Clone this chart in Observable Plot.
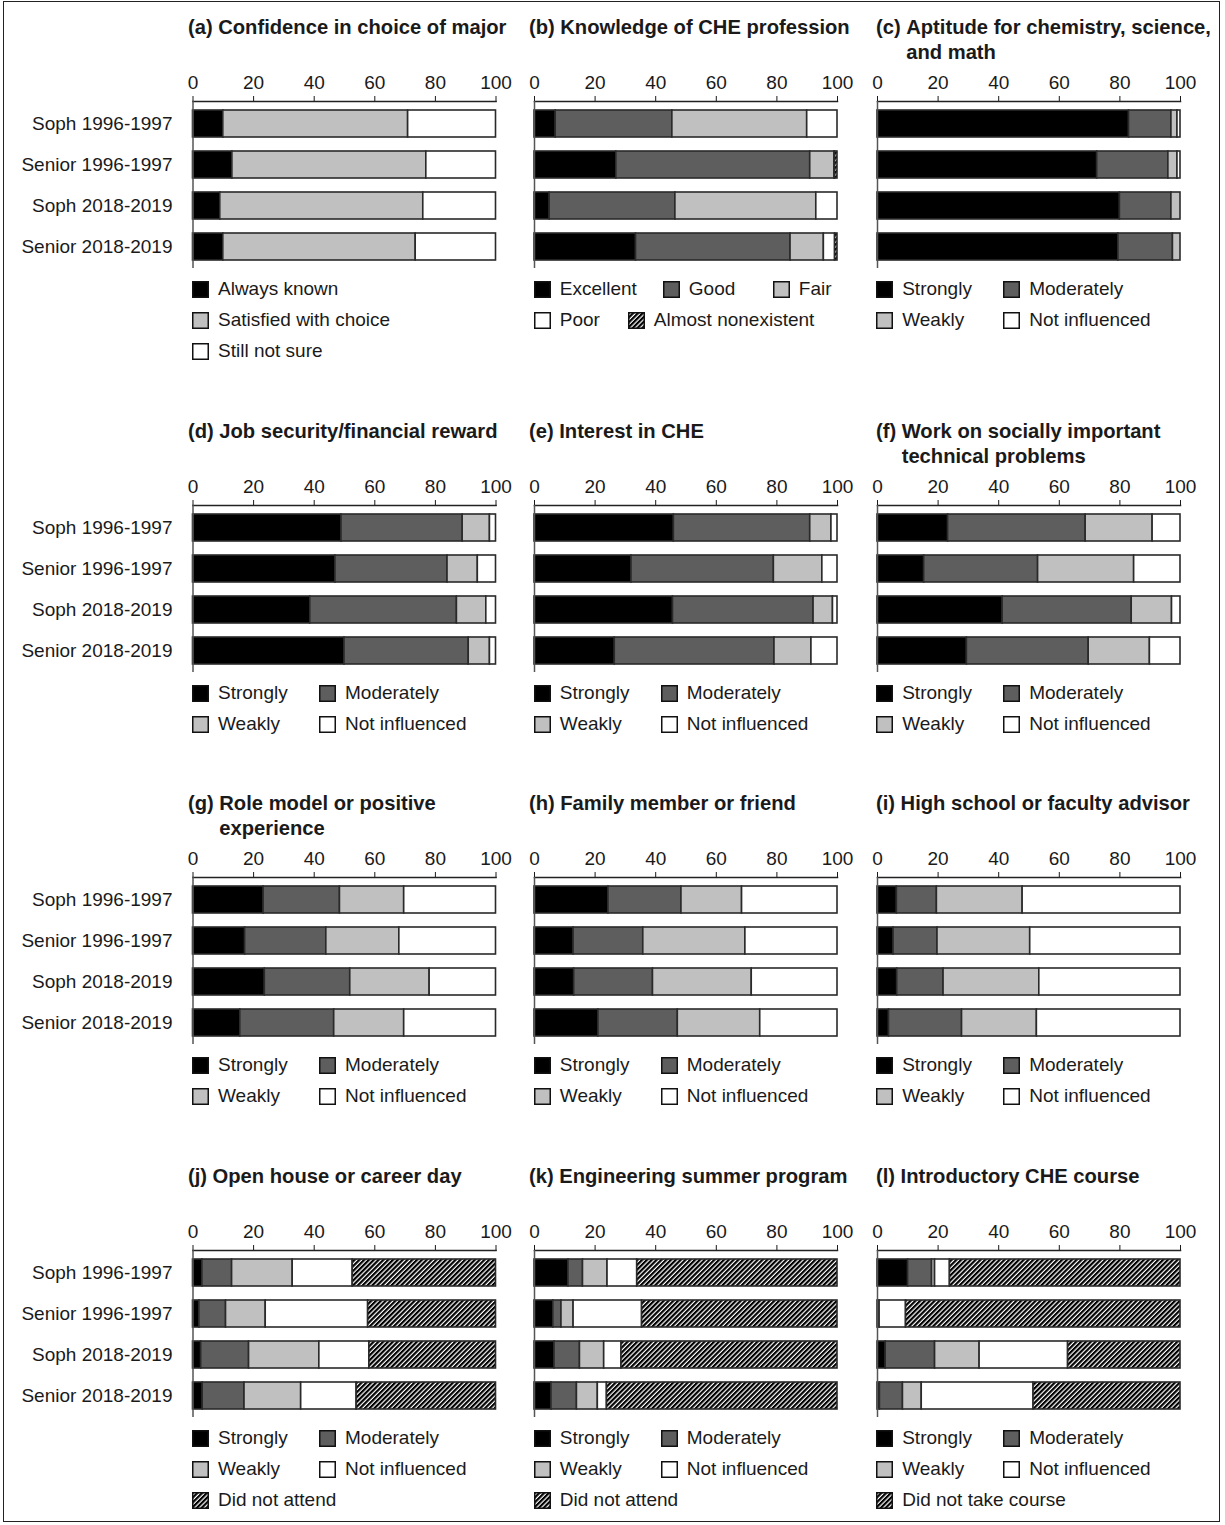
<!DOCTYPE html>
<html>
<head>
<meta charset="utf-8">
<script src="https://cdn.jsdelivr.net/npm/d3@7"></script>
<script src="https://cdn.jsdelivr.net/npm/@observablehq/plot@0.6"></script>
<style>
  body { margin: 0; background: #fff; }
  #fig { position: relative; width: 1225px; height: 1525px; overflow: hidden;
         font-family: "Liberation Sans", Arial, sans-serif; color: #1a1a1a; background: #fff; }
  #fig .border { position: absolute; left: 3px; top: 1px; width: 1217px; height: 1521px;
                 border: 1.5px solid #222; box-sizing: border-box; }
  .title { position: absolute; display: flex; font-weight: bold; font-size: 20.2px;
           line-height: 24.5px; white-space: nowrap; }
  .title .tag { margin-right: 5.5px; }
  .panel { position: absolute; }
  .legend-item { position: absolute; display: flex; align-items: center; font-size: 19px;
                 line-height: 20px; white-space: nowrap; }
  .legend-item svg { margin-right: 9px; flex: none; }
</style>
</head>
<body>
<svg width="0" height="0" style="position:absolute">
  <defs>
    <pattern id="hatch" width="3.4" height="10" patternUnits="userSpaceOnUse" patternTransform="rotate(45)">
      <rect width="3.4" height="10" fill="#fff"></rect>
      <rect width="2.2" height="10" fill="#000"></rect>
    </pattern>
  </defs>
</svg>
<div id="fig"><div class="border"></div></div>
<script>
// Survey groups (one bar per group in every panel)
const rows = ["Soph 1996-1997", "Senior 1996-1997", "Soph 2018-2019", "Senior 2018-2019"];
const xTicks = [0, 20, 40, 60, 80, 100];

// Response categories
const majorLevels = ["Always known", "Satisfied with choice", "Still not sure"];
const knowledgeLevels = ["Excellent", "Good", "Fair", "Poor", "Almost nonexistent"];
const influenceLevels = ["Strongly", "Moderately", "Weakly", "Not influenced"];
const attendLevels = ["Strongly", "Moderately", "Weakly", "Not influenced", "Did not attend"];
const courseLevels = ["Strongly", "Moderately", "Weakly", "Not influenced", "Did not take course"];

// Percent of respondents, one inner array per group (rows order), one value per category
const confidenceMajor = [[10, 61, 29], [13, 64, 23], [9, 67, 24], [10, 63.5, 26.5]];
const knowledgeChe = [[7, 38.5, 44.5, 10, 0], [27, 64, 8, 0.2, 0.8], [5, 41.5, 46.5, 7, 0], [33.5, 51, 11, 3.7, 0.8]];
const aptitude = [[83, 14, 2, 1], [72.5, 23.5, 3, 1], [80, 17, 3, 0], [79.5, 18, 2.5, 0]];
const jobSecurity = [[49, 40, 9, 2], [47, 37, 10, 6], [38.7, 48.4, 9.7, 3.2], [50, 41, 7, 2]];
const interestChe = [[46, 45, 7, 2], [32, 47, 16, 5], [45.7, 46.4, 6.4, 1.5], [26.5, 52.7, 12.2, 8.6]];
const socialProblems = [[23.3, 45.4, 22.1, 9.2], [15.4, 37.6, 31.7, 15.3], [41.3, 42.6, 13.3, 2.8], [29.5, 40.2, 20.2, 10.1]];
const roleModel = [[23.3, 25.2, 21.2, 30.3], [17.2, 26.8, 24.1, 31.9], [23.7, 28.2, 26.2, 21.9], [15.6, 31, 23.1, 30.3]];
const familyFriend = [[24.4, 24.1, 20, 31.5], [12.9, 23, 33.7, 30.4], [13.1, 26, 32.6, 28.3], [21.1, 26.2, 27.2, 25.5]];
const advisor = [[6.4, 13.2, 28.3, 52.1], [5.3, 14.5, 30.6, 49.6], [6.5, 15.3, 31.6, 46.6], [3.8, 24.1, 24.7, 47.4]];
const openHouse = [[3.1, 9.8, 20, 19.8, 47.3], [2.1, 8.8, 13.1, 33.8, 42.2], [2.7, 15.8, 23.2, 16.5, 41.8], [3.2, 13.8, 18.7, 18.3, 46]];
const summerProgram = [[11.2, 4.8, 8.1, 9.8, 66.1], [6.2, 2.7, 4, 22.6, 64.5], [6.6, 8.4, 8, 5.7, 71.3], [5.6, 8.4, 6.9, 3, 76.1]];
const introCourse = [[10.1, 7.9, 1, 4.9, 76.1], [0, 0.3, 0.4, 8.7, 90.6], [2.7, 16.3, 14.7, 29.2, 37.1], [0.8, 7.6, 6.2, 36.9, 48.5]];

// Panel titles (tag, lines)
const panelTags = ["(a)", "(b)", "(c)", "(d)", "(e)", "(f)", "(g)", "(h)", "(i)", "(j)", "(k)", "(l)"];
const panelTitles = [
  ["Confidence in choice of major"],
  ["Knowledge of CHE profession"],
  ["Aptitude for chemistry, science,", "and math"],
  ["Job security/financial reward"],
  ["Interest in CHE"],
  ["Work on socially important", "technical problems"],
  ["Role model or positive", "experience"],
  ["Family member or friend"],
  ["High school or faculty advisor"],
  ["Open house or career day"],
  ["Engineering summer program"],
  ["Introductory CHE course"]
];

// Fills
const BLACK = "#000", DARK = "#5e5e5e", LIGHT = "#c0c0c0", WHITE = "#fff", HATCH = "url(#hatch)";
const fills3 = [BLACK, LIGHT, WHITE];
const fills4 = [BLACK, DARK, LIGHT, WHITE];
const fills5 = [BLACK, DARK, LIGHT, WHITE, HATCH];

// Legend item placement: [x offset from axis origin, legend row]
const layoutA = [[0, 0], [0, 1], [0, 2]];
const layoutB = [[0, 0], [129, 0], [239, 0], [0, 1], [94, 1]];
const layout4 = [[0, 0], [127, 0], [0, 1], [127, 1]];
const layout5 = [[0, 0], [127, 0], [0, 1], [127, 1], [0, 2]];

const panels = [
  {values: confidenceMajor, levels: majorLevels, fills: fills3, legend: layoutA},
  {values: knowledgeChe, levels: knowledgeLevels, fills: fills5, legend: layoutB},
  {values: aptitude, levels: influenceLevels, fills: fills4, legend: layout4},
  {values: jobSecurity, levels: influenceLevels, fills: fills4, legend: layout4},
  {values: interestChe, levels: influenceLevels, fills: fills4, legend: layout4},
  {values: socialProblems, levels: influenceLevels, fills: fills4, legend: layout4},
  {values: roleModel, levels: influenceLevels, fills: fills4, legend: layout4},
  {values: familyFriend, levels: influenceLevels, fills: fills4, legend: layout4},
  {values: advisor, levels: influenceLevels, fills: fills4, legend: layout4},
  {values: openHouse, levels: attendLevels, fills: fills5, legend: layout5},
  {values: summerProgram, levels: attendLevels, fills: fills5, legend: layout5},
  {values: introCourse, levels: courseLevels, fills: fills5, legend: layout5}
];

// Grid geometry
const colX = [192.5, 534.3, 876.7];     // x = 0 of each column
const titleX = [188, 529, 876];
const rowT = [101, 505, 877, 1250];     // y of the top axis of each row
const plotW = 303, plotH = 167, mTop = 41, mBottom = 2, mRight = 22;

const fig = document.getElementById("fig");

panels.forEach((p, k) => {
  const col = k % 3, row = Math.floor(k / 3);
  const x0 = colX[col], T = rowT[row];
  const mLeft = col === 0 ? x0 : 30;

  const data = rows.flatMap((r, i) => p.levels.map((level, j) => ({row: r, level, value: p.values[i][j]})));

  const chart = Plot.plot({
    width: mLeft + plotW + mRight,
    height: mTop + plotH + mBottom,
    marginTop: mTop,
    marginBottom: mBottom,
    marginLeft: mLeft,
    marginRight: mRight,
    style: {fontFamily: "'Liberation Sans', Arial, sans-serif", fontSize: "19px", color: "#1a1a1a",
            background: "transparent", overflow: "visible"},
    x: {domain: [0, 100], axis: "top", ticks: xTicks, tickSize: 6, tickPadding: 7, label: null},
    y: {domain: rows, paddingInner: 0.35, paddingOuter: 0.175,
        axis: col === 0 ? "left" : null, tickSize: 0, tickPadding: 20.5, label: null},
    color: {domain: p.levels, range: p.fills},
    marks: [
      Plot.barX(data, {x: "value", y: "row", fill: "level", stroke: "#2a2a2a", strokeWidth: 1.6}),
      Plot.frame({anchor: "top", stroke: "#222", strokeWidth: 1.5}),
      Plot.ruleX([0], {stroke: "#555", strokeWidth: 1.5})
    ]
  });
  const holder = document.createElement("div");
  holder.className = "panel";
  holder.style.left = (x0 - mLeft) + "px";
  holder.style.top = (T - mTop) + "px";
  holder.appendChild(chart);
  fig.appendChild(holder);

  // Title
  const title = document.createElement("div");
  title.className = "title";
  title.style.left = titleX[col] + "px";
  title.style.top = (T - 86) + "px";
  const tag = document.createElement("span");
  tag.className = "tag";
  tag.textContent = panelTags[k];
  const body = document.createElement("span");
  body.innerHTML = panelTitles[k].map(s => s.replace(/&/g, "&amp;")).join("<br>");
  title.append(tag, body);
  fig.appendChild(title);

  // Legend
  p.levels.forEach((level, j) => {
    const [dx, lr] = p.legend[j];
    const item = document.createElement("div");
    item.className = "legend-item";
    item.style.left = (x0 - 0.5 + dx) + "px";
    item.style.top = (T + 188 + lr * 31 - 10) + "px";
    item.innerHTML = `<svg width="17" height="17"><rect x="0.75" y="0.75" width="15.5" height="15.5" fill="${p.fills[j]}" stroke="#111" stroke-width="1.5"></rect></svg>`;
    const label = document.createElement("span");
    label.textContent = level;
    item.appendChild(label);
    fig.appendChild(item);
  });
});
</script>
</body>
</html>
